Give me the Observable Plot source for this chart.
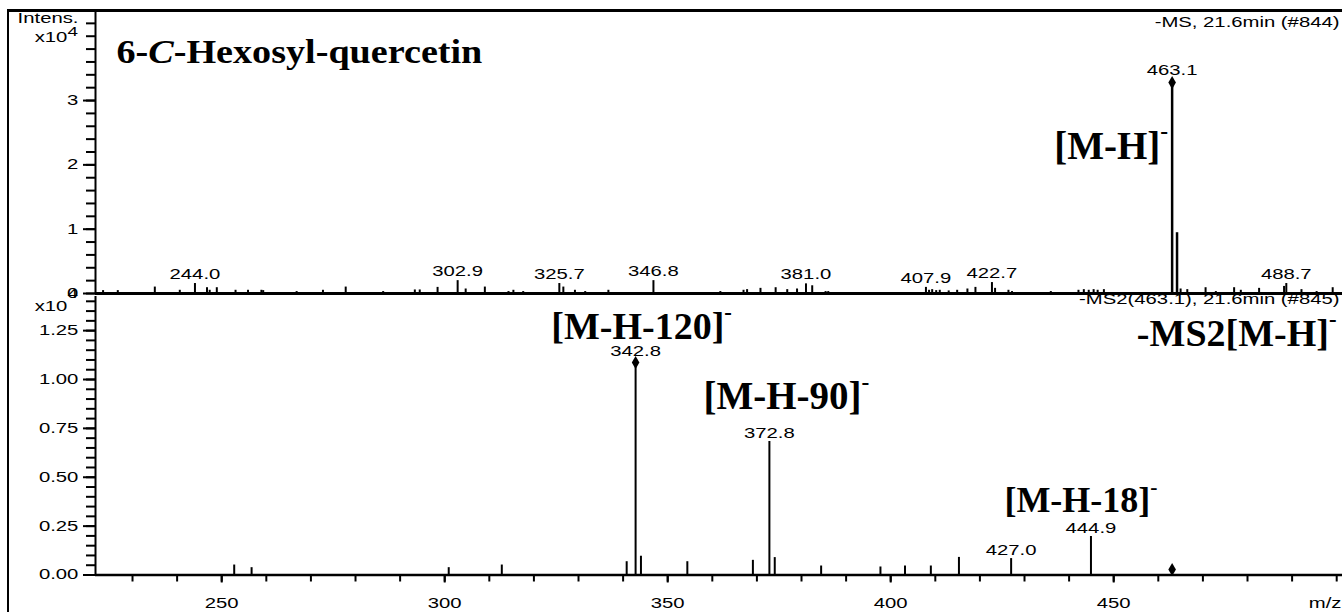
<!DOCTYPE html>
<html><head><meta charset="utf-8">
<script src="https://cdn.jsdelivr.net/npm/d3@7"></script>
<script src="https://cdn.jsdelivr.net/npm/@observablehq/plot@0.6"></script>
<style>
body{margin:0;background:#fff;}
#wrap{position:relative;width:1342px;height:612px;overflow:hidden;background:#fff;}
#frame{position:absolute;left:7px;top:9px;right:-10px;bottom:-10px;border-left:2px solid #000;border-top:3px solid #000;pointer-events:none;}
#wrap svg{position:absolute;left:0;overflow:visible;background:transparent;}
</style></head><body><div id="wrap"><div id="frame"></div></div>
<script>
// ---- MS spectrum (top) ----
const msMz  = [223.4,226.7,235.0,240.6,244.0,246.7,247.3,248.9,253.1,255.9,258.9,259.3,266.8,272.7,277.8,286.2,293.3,294.4,298.4,302.9,304.7,309.0,314.3,315.4,317.6,325.7,326.6,329.2,331.5,336.7,346.8,361.8,367.0,367.8,370.8,374.2,376.8,379.0,381.0,382.4,385.4,386.0,407.9,408.6,409.3,410.2,411.0,413.0,414.9,417.2,419.0,422.7,423.4,426.4,427.2,435.9,442.1,443.3,444.4,445.5,446.4,447.8,463.1,464.2,465.0,466.5,470.6,472.9,477.0,478.5,482.6,488.2,488.7,492.1,495.5,499.1];
const msInt = [450,450,1000,500,1550,900,500,900,500,500,500,450,300,500,1000,300,550,550,950,2000,700,1000,300,500,300,1550,1000,500,300,500,2000,300,500,600,800,900,600,700,1500,1200,300,300,950,500,600,450,500,400,500,700,950,1700,800,500,300,300,500,600,500,600,500,600,32800,9450,700,600,900,300,900,500,800,1100,1550,600,300,900];
const msLabels = [244.0,302.9,325.7,346.8,381.0,407.9,422.7,463.1,488.7];
const msPrecursor = [463.1];

// ---- MS2 spectrum (bottom) ----
const ms2Mz  = [252.8,256.7,300.9,312.8,340.8,342.8,344.0,354.4,369.1,372.8,374.0,384.4,397.7,403.2,409.0,415.3,427.0,444.9];
const ms2Int = [510,375,375,510,680,10870,960,680,750,6830,890,460,410,460,460,900,840,1970];
const ms2Labels = [342.8,372.8,427.0,444.9];
const ms2Precursor = [463.1];
const ms2PrecursorMarker = [280];

// ---- texts / ticks ----
const titleParts = ["6-","C","-Hexosyl-quercetin"];
const msHeader = "-MS, 21.6min (#844)";
const ms2Header = "-MS2(463.1), 21.6min (#845)";
const ionMH = "[M-H]⁻";
const ion120 = "[M-H-120]⁻";
const ion90 = "[M-H-90]⁻";
const ion18 = "[M-H-18]⁻";
const ms2Tag = "-MS2[M-H]⁻";
const xUnit = "m/z";
const xMajor = [250,300,350,400,450];
const xMinor = d3.range(230, 501, 10);
const yTopMajor = [0,10000,20000,30000];
const yTopMinor = d3.range(0, 44001, 2000);
const yBotMajor = [0,2500,5000,7500,10000,12500];
const yBotMinor = d3.range(0, 14001, 500);

const sans = "'Liberation Sans', Arial, Helvetica, sans-serif";
const serif = "'Liberation Serif', 'Times New Roman', serif";
const X_DOMAIN = [221.7, 501.3];
const SANS_PX = 14, SANS_K = 1.45;

const ms = msMz.map((mz, k) => ({mz, i: msInt[k]}));
const ms2 = ms2Mz.map((mz, k) => ({mz, i: ms2Int[k]}));
const msLab = msLabels.map(mz => ms.find(d => d.mz === mz));
const ms2Lab = ms2Labels.map(mz => ms2.find(d => d.mz === mz));
const msTopPeak = msPrecursor.map(mz => ms.find(d => d.mz === mz));
const ms2TopPeak = [ms2.find(d => d.i === d3.max(ms2Int))];
const find2 = mz => ms2.find(d => d.mz === mz);

const topPlot = Plot.plot({
  width: 1342, height: 296,
  marginLeft: 95, marginRight: 0, marginTop: 10, marginBottom: 3,
  x: {domain: X_DOMAIN, label: null, axis: null},
  y: {domain: [0, 44000], label: null},
  style: {fontFamily: sans, fontSize: SANS_PX + "px", background: "transparent", overflow: "visible", color: "black"},
  marks: [
    Plot.ruleX(ms, {x: "mz", y1: 0, y2: "i", stroke: "black", strokeWidth: d => d.i > 5000 ? 2.5 : 2}),
    Plot.ruleY([0], {stroke: "black", strokeWidth: 3}),
    Plot.ruleX([X_DOMAIN[0]], {stroke: "black", strokeWidth: 2}),
    Plot.axisY({ticks: yTopMinor, tickSize: 9, tickFormat: () => "", strokeWidth: 2, label: null}),
    Plot.axisY({ticks: yTopMajor, tickSize: 12, tickPadding: 5, tickFormat: d => String(d / 1e4), strokeWidth: 2, label: null}),
    Plot.dot(msTopPeak, {x: "mz", y: "i", symbol: "diamond", r: 4, fill: "black"}),
    Plot.text(msLab.filter(d => !msPrecursor.includes(d.mz)), {x: "mz", y: "i", text: d => d.mz.toFixed(1), dy: -9, lineAnchor: "middle"}),
    Plot.text(msTopPeak, {x: "mz", y: "i", text: d => d.mz.toFixed(1), dy: -12, lineAnchor: "middle"}),
    Plot.text(["Intens."], {frameAnchor: "top-left", text: d => d, textAnchor: "end", dx: -17, dy: 8, lineAnchor: "middle"}),
    Plot.text(["x10"], {frameAnchor: "top-left", text: d => d, textAnchor: "end", dx: -28, dy: 27, lineAnchor: "middle"}),
    Plot.text(["4"], {frameAnchor: "top-left", text: d => d, textAnchor: "start", dx: -28, dy: 21, lineAnchor: "middle"}),
    Plot.text([msHeader], {frameAnchor: "top-right", text: d => d, textAnchor: "end", dx: -3, dy: 12, lineAnchor: "middle"}),
    Plot.text([titleParts.join("")], {frameAnchor: "top-left", text: d => d, textAnchor: "start", dx: 21, dy: 52, lineAnchor: "bottom", fontFamily: serif, fontWeight: "bold", fontSize: 33}),
    Plot.text(msTopPeak, {x: "mz", y: "i", text: () => ionMH, textAnchor: "end", dx: -4, dy: 76, lineAnchor: "bottom", fontFamily: serif, fontWeight: "bold", fontSize: 39})
  ]
});

const ms2Other = ms2Lab.filter(d => d !== ms2TopPeak[0]);

const botPlot = Plot.plot({
  width: 1342, height: 316,
  marginLeft: 95, marginRight: 0, marginTop: 0, marginBottom: 37.5,
  x: {domain: X_DOMAIN, label: null},
  y: {domain: [0, 14246], label: null},
  style: {fontFamily: sans, fontSize: SANS_PX + "px", background: "transparent", overflow: "visible", color: "black"},
  marks: [
    Plot.ruleX(ms2, {x: "mz", y1: 0, y2: "i", stroke: "black", strokeWidth: 2}),
    Plot.ruleY([0], {stroke: "black", strokeWidth: 2.5}),
    Plot.ruleX([X_DOMAIN[0]], {stroke: "black", strokeWidth: 2}),
    Plot.axisY({ticks: yBotMinor, tickSize: 9, tickFormat: () => "", strokeWidth: 2, label: null}),
    Plot.axisY({ticks: yBotMajor, tickSize: 12, tickPadding: 5, tickFormat: d => (d / 1e4).toFixed(2), strokeWidth: 2, label: null}),
    Plot.axisX({ticks: xMinor, tickSize: 7, tickFormat: () => "", strokeWidth: 2, label: null}),
    Plot.axisX({ticks: xMajor, tickSize: 8, tickPadding: 15, tickFormat: d => String(d), strokeWidth: 2, label: null}),
    Plot.text([xUnit], {frameAnchor: "bottom-right", text: d => d, textAnchor: "end", dx: -1, dy: 23, lineAnchor: "top"}),
    Plot.dot(ms2TopPeak, {x: "mz", y: "i", symbol: "diamond", r: 4, fill: "black"}),
    Plot.dot(ms2Precursor.map((mz, k) => ({mz, i: ms2PrecursorMarker[k]})), {x: "mz", y: "i", symbol: "diamond", r: 4, fill: "black"}),
    Plot.text(ms2TopPeak, {x: "mz", y: "i", text: d => d.mz.toFixed(1), dy: -11, lineAnchor: "middle"}),
    Plot.text(ms2Other, {x: "mz", y: "i", text: d => d.mz.toFixed(1), dy: -8, lineAnchor: "middle"}),
    Plot.text(["x10"], {frameAnchor: "top-left", text: d => d, textAnchor: "end", dx: -28, dy: 10, lineAnchor: "middle"}),
    Plot.text(["4"], {frameAnchor: "top-left", text: d => d, textAnchor: "start", dx: -28, dy: -3, lineAnchor: "middle"}),
    Plot.text([ms2Header], {frameAnchor: "top-right", text: d => d, textAnchor: "end", dx: -3, dy: 3, lineAnchor: "middle"}),
    Plot.text([ms2Tag], {frameAnchor: "top-right", text: d => d, textAnchor: "end", dx: -6, dy: 49, lineAnchor: "bottom", fontFamily: serif, fontWeight: "bold", fontSize: 38}),
    Plot.text([find2(342.8)], {x: "mz", y: "i", text: () => ion120, textAnchor: "middle", dx: 6, dy: -23, lineAnchor: "bottom", fontFamily: serif, fontWeight: "bold", fontSize: 38}),
    Plot.text([find2(372.8)], {x: "mz", y: "i", text: () => ion90, textAnchor: "middle", dx: 17, dy: -32, lineAnchor: "bottom", fontFamily: serif, fontWeight: "bold", fontSize: 39}),
    Plot.text([find2(444.9)], {x: "mz", y: "i", text: () => ion18, textAnchor: "middle", dx: -10, dy: -24, lineAnchor: "bottom", fontFamily: serif, fontWeight: "bold", fontSize: 36})
  ]
});

const wrap = document.getElementById("wrap");
topPlot.style.top = "0px";
botPlot.style.top = "296px";
wrap.appendChild(topPlot);
wrap.appendChild(botPlot);

const SVGNS = "http://www.w3.org/2000/svg";
const titleText = titleParts.join("");
function stretch(t, k) {
  const g = document.createElementNS(SVGNS, "g");
  t.parentNode.insertBefore(g, t);
  g.appendChild(t);
  const b = g.getBBox();
  const anchor = getComputedStyle(t).textAnchor;
  const ax = anchor === "end" ? b.x + b.width : anchor === "middle" ? b.x + b.width / 2 : b.x;
  g.setAttribute("transform", `translate(${ax},0) scale(${k},1) translate(${-ax},0)`);
}
function finish(svg) {
  Array.from(svg.querySelectorAll("text")).forEach(t => {
    const fam = getComputedStyle(t).fontFamily;
    const isSerif = /Liberation Serif/.test(fam);
    const s = t.textContent;
    let k = 1;
    if (!isSerif) {
      if (s === "") return;
      t.style.fontSize = s === "4" ? (SANS_PX - 1) + "px" : SANS_PX + "px";
      k = SANS_K;
    } else if (s === titleText) {
      t.textContent = "";
      titleParts.forEach((p, j) => {
        const sp = document.createElementNS(SVGNS, "tspan");
        sp.textContent = p;
        if (j === 1) sp.setAttribute("font-style", "italic");
        t.appendChild(sp);
      });
      k = 366 / t.getComputedTextLength();
    } else if (s.endsWith("⁻")) {
      const fs = parseFloat(getComputedStyle(t).fontSize);
      t.textContent = s.slice(0, -1);
      const sp = document.createElementNS(SVGNS, "tspan");
      sp.textContent = "-";
      sp.setAttribute("font-size", (fs * 0.6).toFixed(1));
      sp.setAttribute("dy", (-fs * 0.5).toFixed(1));
      t.appendChild(sp);
    }
    if (k !== 1) stretch(t, k);
  });
}
finish(topPlot);
finish(botPlot);
</script>
</body></html>
